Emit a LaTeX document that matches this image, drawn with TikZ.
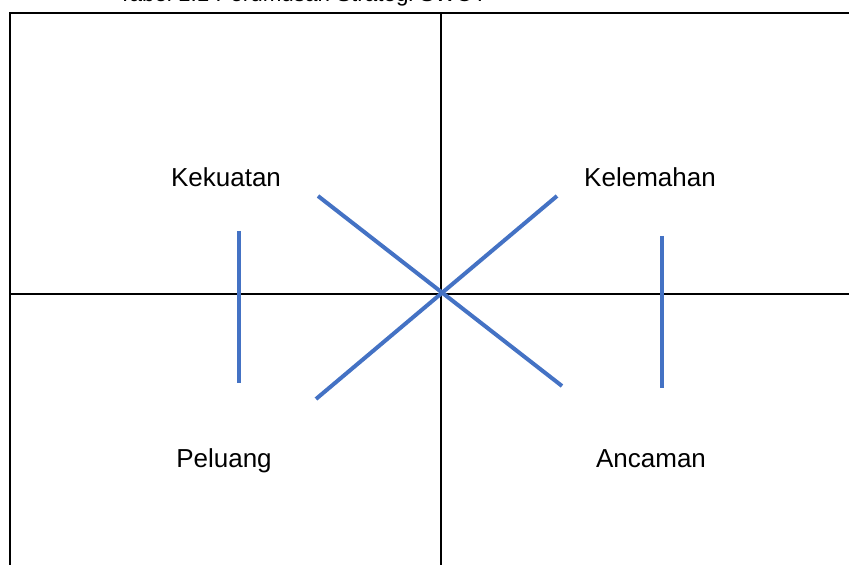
\documentclass[tikz,border=0pt]{standalone}
\usepackage{fontspec}
\setmainfont{Liberation Sans}
\usepackage{xcolor}
\usetikzlibrary{positioning}
\definecolor{swotblue}{HTML}{4472C4}

\begin{document}
\begin{tikzpicture}[
    x=0.5pt, y=-0.5pt,
    label/.style={font=\fontsize{13}{15}\selectfont, inner sep=0pt, anchor=base},
    grid/.style={draw=black, line width=1pt},
    bar/.style={draw=swotblue, line width=2pt}
]
\useasboundingbox (0,0) rectangle (849,565);
\clip (0,0) rectangle (849,565);

% judul (terpotong di atas)
\node[label, anchor=base west, font=\fontsize{11.2}{13}\selectfont] (title) at (118,2) {Tabel 1.1 Perumusan Strategi SWOT};

% kotak dan pembagi
\draw[grid] (10,600) -- (10,13) -- (900,13);
\draw[grid] (441,13) -- (441,600);
\draw[grid] (10,294) -- (900,294);

% label kuadran
\node[label] (S) at (226,187) {Kekuatan};
\node[label] (W) at (650,187) {Kelemahan};
\node[label] (O) at (224,467) {Peluang};
\node[label] (T) at (651,467) {Ancaman};

% garis biru
\coordinate (SOtop) at (239,231);
\coordinate (SObot) at (239,383);
\coordinate (WTtop) at (662,236);
\coordinate (WTbot) at (662,388);
\coordinate (STa) at (318,196);
\coordinate (STb) at (562,386);
\coordinate (WOa) at (557,196);
\coordinate (WOb) at (316,399);

\draw[bar] (SOtop) -- (SObot);
\draw[bar] (WTtop) -- (WTbot);
\draw[bar] (STa) -- (STb);
\draw[bar] (WOa) -- (WOb);
\end{tikzpicture}
\end{document}
